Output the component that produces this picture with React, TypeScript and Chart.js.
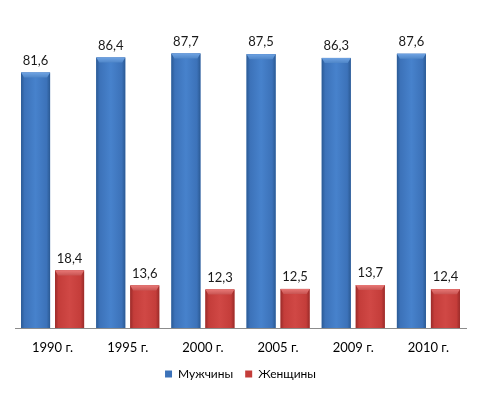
import React, { useEffect, useRef } from "react";
import { Chart, registerables } from "chart.js";

Chart.register(...registerables);

const categories = ["1990 г.", "1995 г.", "2000 г.", "2005 г.", "2009 г.", "2010 г."];
const men = [81.6, 86.4, 87.7, 87.5, 86.3, 87.6];
const women = [18.4, 13.6, 12.3, 12.5, 13.7, 12.4];
const seriesNames = ["Мужчины", "Женщины"];

const FONT = "Lato, 'Open Sans', sans-serif";

const palettes = [
  { edge: "#2b5a94", mid: "#3c72b9", center: "#4782cc", top: "#6fa3e3", topEdge: "#4f86c8" },
  { edge: "#9a2b29", mid: "#c43d3a", center: "#d04845", top: "#e87876", topEdge: "#c85452" },
];

const bevelPlugin = {
  id: "bevelBars",
  afterDatasetsDraw(chart: any) {
    const ctx = chart.ctx;
    chart.data.datasets.forEach((ds: any, di: number) => {
      const meta = chart.getDatasetMeta(di);
      const p = palettes[di];
      meta.data.forEach((el: any, i: number) => {
        const w = el.width;
        const x0 = el.x - w / 2;
        const x1 = el.x + w / 2;
        const y0 = el.y;
        const y1 = el.base;
        ctx.save();
        const g = ctx.createLinearGradient(x0, 0, x1, 0);
        g.addColorStop(0, p.edge);
        g.addColorStop(0.12, p.mid);
        g.addColorStop(0.5, p.center);
        g.addColorStop(0.88, p.mid);
        g.addColorStop(1, p.edge);
        ctx.fillStyle = g;
        ctx.fillRect(x0, y0, w, y1 - y0);
        const b = 5;
        const tg = ctx.createLinearGradient(0, y0, 0, y0 + b);
        tg.addColorStop(0, p.top);
        tg.addColorStop(1, p.topEdge);
        ctx.fillStyle = tg;
        ctx.beginPath();
        ctx.moveTo(x0, y0);
        ctx.lineTo(x1, y0);
        ctx.lineTo(x1 - 3, y0 + b);
        ctx.lineTo(x0 + 3, y0 + b);
        ctx.closePath();
        ctx.fill();
        ctx.fillStyle = "#1a1a1a";
        ctx.font = "13px " + FONT;
        ctx.textAlign = "center";
        ctx.textBaseline = "middle";
        const v = ds.data[i];
        ctx.fillText(String(v).replace(".", ","), el.x, y0 - 12);
        ctx.restore();
      });
    });
  },
};

export default function App() {
  const ref = useRef<HTMLCanvasElement>(null);
  useEffect(() => {
    document.body.style.margin = "0";
    const chart = new Chart(ref.current!, {
      type: "bar",
      data: {
        labels: categories,
        datasets: [
          { label: seriesNames[0], data: men, backgroundColor: "#3c72b9", borderWidth: 0 },
          { label: seriesNames[1], data: women, backgroundColor: "#c43d3a", borderWidth: 0 },
        ],
      },
      options: {
        animation: false,
        responsive: false,
        maintainAspectRatio: false,
        layout: { padding: { left: 15, right: 15, top: 15, bottom: 4 } },
        datasets: { bar: { categoryPercentage: 0.905, barPercentage: 0.853 } },
        scales: {
          x: {
            grid: { display: false, drawTicks: false },
            border: { display: true, color: "#8c8c8c", width: 1 },
            ticks: { color: "#000", font: { family: FONT, size: 13 }, padding: 12 },
            afterFit: (scale: any) => {
              scale.height = 28;
            },
          },
          y: { display: false, min: 0, max: 100 },
        },
        plugins: {
          tooltip: { enabled: false },
          legend: {
            position: "bottom",
            labels: {
              boxWidth: 7,
              boxHeight: 7,
              color: "#000",
              font: { family: FONT, size: 12 },
              padding: 12,
            },
          },
        },
      },
      plugins: [bevelPlugin],
    });
    return () => chart.destroy();
  }, []);
  return (
    <div style={{ position: "absolute", left: 0, top: 0, width: 481, height: 394 }}>
      <canvas ref={ref} width={481} height={394} style={{ width: 481, height: 394 }} />
    </div>
  );
}
